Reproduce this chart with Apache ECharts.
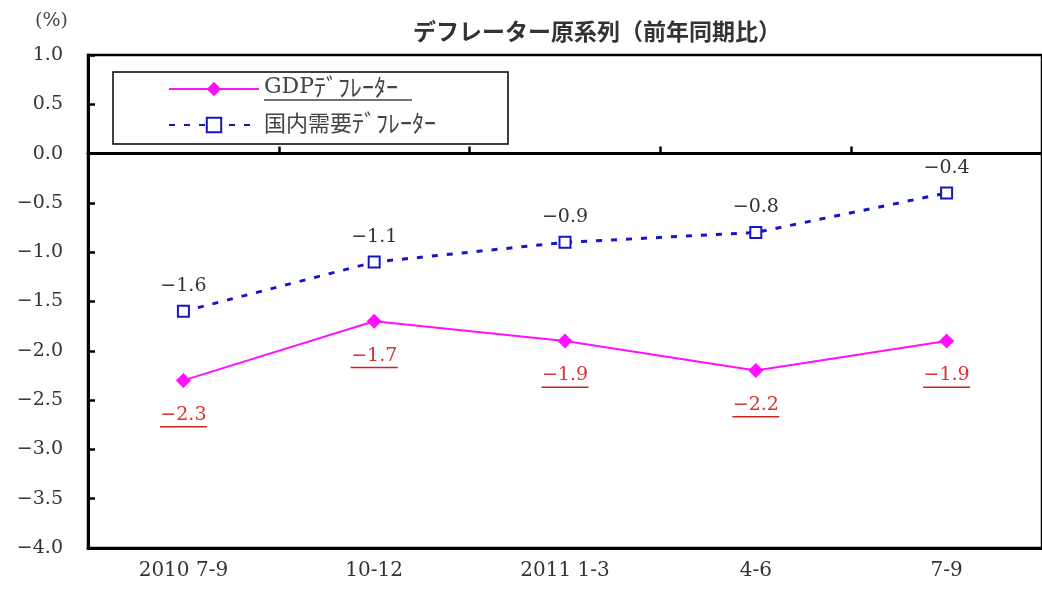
<!DOCTYPE html>
<html>
<head>
<meta charset="utf-8">
<script src="https://cdn.jsdelivr.net/npm/echarts@6/dist/echarts.min.js"></script>
<style>
  html, body { margin: 0; padding: 0; background: #fff; }
  #chart { width: 1042px; height: 593px; }
</style>
</head>
<body>
<div id="chart"></div>
<script>
// Quarterly periods
const categories = ['2010 7-9', '10-12', '2011 1-3', '4-6', '7-9'];
// Year-on-year change (%)
const gdpDeflator = [-2.3, -1.7, -1.9, -2.2, -1.9];
const domesticDemandDeflator = [-1.6, -1.1, -0.9, -0.8, -0.4];
const seriesNames = ['GDPﾃﾞﾌﾚｰﾀｰ', '国内需要ﾃﾞﾌﾚｰﾀｰ'];
const yTicks = { min: -4.0, max: 1.0, step: 0.5 };

const serif = '"DejaVu Serif", "Liberation Serif", serif';
const cjk = '"Noto Sans CJK JP", "Noto Sans", sans-serif';
const fmt = v => (v < 0 ? '\u2212' : '') + Math.abs(v).toFixed(1);

// Legend text: Latin / kanji prefix and the half-width kana part styled separately
function legendText(name) {
  const k = name.indexOf('ﾃ');
  const head = name.slice(0, k), kana = name.slice(k);
  const headStyle = /^[A-Za-z]+$/.test(head) ? 'g' : 'j';
  const second = name === seriesNames[0] ? '{u|}' : '{n|}';
  return '{' + headStyle + '|' + head + '}{k|' + kana + '}\n' + second;
}

const chart = echarts.init(document.getElementById('chart'));
chart.setOption({
  animation: false,
  backgroundColor: '#fff',
  title: {
    text: 'デフレーター原系列（前年同期比）',
    left: 592, textAlign: 'center', top: 15,
    textStyle: { fontFamily: cjk, fontSize: 23, fontWeight: 'bold', color: '#333' }
  },
  graphic: [{
    type: 'text', left: 35, top: 12,
    style: { text: '(%)', font: '19px ' + serif, fill: '#444' }
  }],
  legend: {
    orient: 'vertical', left: 113, top: 72,
    backgroundColor: '#fff', borderColor: '#000', borderWidth: 1.5,
    padding: [3, 44, 2, 55],
    itemWidth: 90, itemHeight: 18, itemGap: 5,
    data: seriesNames,
    formatter: legendText,
    textStyle: {
      rich: {
        g: { fontFamily: serif, fontSize: 22, color: '#444', lineHeight: 22 },
        j: { fontFamily: cjk, fontSize: 22, color: '#444', lineHeight: 22 },
        k: { fontFamily: cjk, fontSize: 24, color: '#444', lineHeight: 22 },
        u: { width: 148, height: 1.5, lineHeight: 4, backgroundColor: '#444' },
        n: { width: 200, height: 1.5, lineHeight: 4 }
      }
    }
  },
  grid: {
    left: 88, top: 55, width: 965, height: 493,
    show: true, borderColor: '#000', borderWidth: 2.5
  },
  xAxis: [{
    type: 'category', data: categories, boundaryGap: true, position: 'bottom',
    axisLine: { onZero: false, lineStyle: { color: '#000', width: 3 } },
    axisTick: { show: false },
    axisLabel: { margin: 13, fontFamily: serif, fontSize: 20, color: '#333' }
  }, {
    type: 'category', data: categories, boundaryGap: true, position: 'top',
    axisLine: { onZero: true, lineStyle: { color: '#000', width: 3 } },
    axisTick: { show: true, inside: false, length: 7, lineStyle: { color: '#000', width: 2.5 } },
    axisLabel: { show: false },
    z: 10
  }],
  yAxis: {
    type: 'value', min: yTicks.min, max: yTicks.max, interval: yTicks.step,
    axisLine: { show: true, lineStyle: { color: '#000', width: 3 } },
    axisTick: { show: true, inside: true, length: 7, lineStyle: { color: '#000', width: 2.5 } },
    splitLine: { show: false },
    axisLabel: { margin: 25, fontFamily: serif, fontSize: 19, color: '#333', formatter: fmt }
  },
  series: [{
    name: seriesNames[0], type: 'line', xAxisIndex: 0,
    data: gdpDeflator,
    symbol: 'diamond', symbolSize: 15,
    lineStyle: { color: '#ff10ff', width: 2 },
    itemStyle: { color: '#ff10ff', borderWidth: 0 },
    label: {
      show: true, position: 'bottom', distance: 16,
      formatter: p => '{v|' + fmt(p.value) + '}\n{u|}',
      rich: {
        v: { fontFamily: serif, fontSize: 19, color: '#dc3030', lineHeight: 22, align: 'center' },
        u: { width: 47, height: 1.5, backgroundColor: '#d02020', align: 'center' }
      }
    },
    z: 3
  }, {
    name: seriesNames[1], type: 'line', xAxisIndex: 0,
    data: domesticDemandDeflator,
    symbol: 'emptyRect', symbolSize: 11,
    lineStyle: { color: '#1616c8', width: 3, type: [6, 9] },
    itemStyle: { color: '#1616c8', borderWidth: 2.5 },
    label: {
      show: true, position: 'top', distance: 9,
      fontFamily: serif, fontSize: 19, color: '#333',
      formatter: p => fmt(p.value)
    },
    z: 3
  }]
});
</script>
</body>
</html>
